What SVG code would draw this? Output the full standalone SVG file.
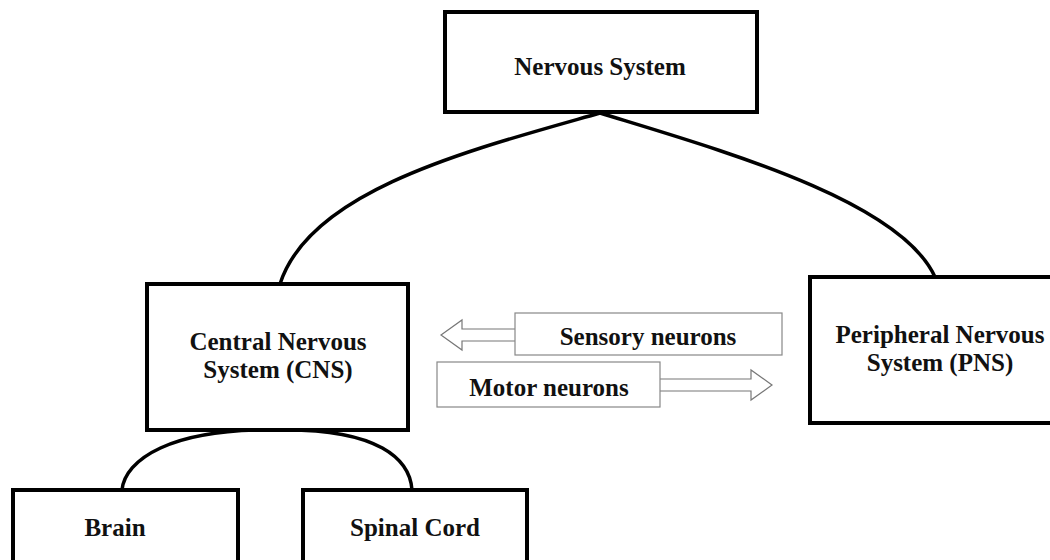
<svg xmlns="http://www.w3.org/2000/svg" width="1050" height="560" viewBox="0 0 1050 560">
<style>
.box{fill:#fff;stroke:#000;stroke-width:4}
.thin{fill:#fff;stroke:#888;stroke-width:1.2}
.t{font-family:"Liberation Serif","Times New Roman",serif;font-weight:bold;font-size:25px;fill:#111;text-anchor:middle}
.c{fill:none;stroke:#000;stroke-width:3.5}
.ar{fill:#fff;stroke:#777;stroke-width:1.2}
</style>
<rect width="1050" height="560" fill="#fff"/>
<g id="connectors">
<path class="c" d="M600,113 C470,150 310,190 280,284"/>
<path class="c" d="M600,113 C720,150 900,200 935,277"/>
<path class="c" d="M277,430 C170,428 125,460 122,490"/>
<path class="c" d="M277,430 C380,428 410,460 412,490"/>
<path class="ar" d="M515,329 L462,329 L462,320 L441,335 L462,350 L462,341 L515,341"/>
<path class="ar" d="M660,379 L751,379 L751,370 L772,385 L751,400 L751,391 L660,391"/>
</g>
<g id="nervous-system">
<rect class="box" x="445" y="12" width="312" height="100"/>
<text class="t" x="600" y="75">Nervous System</text>
</g>
<g id="cns">
<rect class="box" x="147" y="284" width="261" height="146"/>
<text class="t" x="278" y="350">Central Nervous</text>
<text class="t" x="278" y="378">System (CNS)</text>
</g>
<g id="pns">
<rect class="box" x="810" y="277" width="260" height="146"/>
<text class="t" x="940" y="343">Peripheral Nervous</text>
<text class="t" x="940" y="371">System (PNS)</text>
</g>
<g id="sensory">
<rect class="thin" x="515" y="313" width="267" height="42"/>
<text class="t" x="648" y="345">Sensory neurons</text>
</g>
<g id="motor">
<rect class="thin" x="437" y="362" width="223" height="45"/>
<text class="t" x="549" y="396">Motor neurons</text>
</g>
<g id="brain">
<rect class="box" x="13" y="490" width="225" height="90"/>
<text class="t" x="115" y="536">Brain</text>
</g>
<g id="spinal-cord">
<rect class="box" x="303" y="490" width="224" height="90"/>
<text class="t" x="415" y="536">Spinal Cord</text>
</g>
</svg>
